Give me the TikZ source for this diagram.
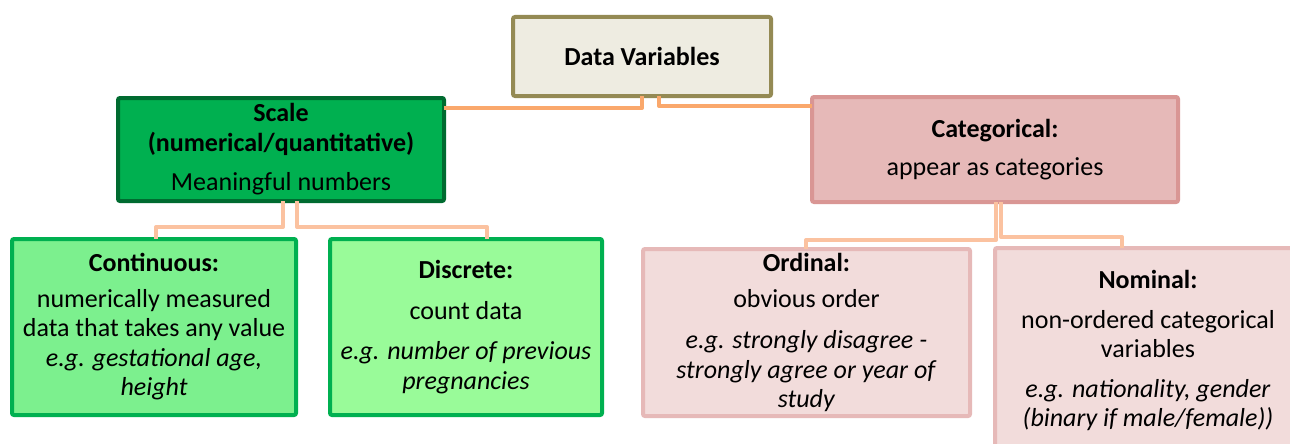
\documentclass[tikz,border=0pt]{standalone}
\usepackage{fontspec}
\setmainfont{Carlito}
\definecolor{dvfill}{HTML}{EEECE1}
\definecolor{dvline}{HTML}{948A54}
\definecolor{scfill}{HTML}{00B050}
\definecolor{scline}{HTML}{006B30}
\definecolor{cafill}{HTML}{E6B9B8}
\definecolor{caline}{HTML}{D99694}
\definecolor{cofill}{HTML}{7CF08E}
\definecolor{difill}{HTML}{99FB99}
\definecolor{chline}{HTML}{00B050}
\definecolor{pkfill}{HTML}{F2DCDB}
\definecolor{pkline}{HTML}{E6B9B8}
\definecolor{conA}{HTML}{FAA86C}
\definecolor{conB}{HTML}{FBC2A0}
\tikzset{
  box/.style={draw, line width=4pt, rounded corners=2pt, inner sep=0pt, outer sep=0pt,
    align=center, font=\fontsize{26}{29.5}\selectfont},
  topconn/.style={draw=conA, line width=4pt, line join=round},
  subconn/.style={draw=conB, line width=4pt, line join=round},
}
\begin{document}
\begin{tikzpicture}[x=1pt,y=-1pt]
\clip (0,0) rectangle (1290,444);
\useasboundingbox (0,0) rectangle (1290,444);
\fill[white] (0,0) rectangle (1290,444);
\coordinate (j1) at (642,108);
\coordinate (j2) at (659,106);
\coordinate (k1) at (283,227);
\coordinate (k2) at (297,227);
\coordinate (m1) at (996,240);
\coordinate (m2) at (1001,237);
\coordinate (c1x) at (156,0);
\coordinate (c2x) at (487,0);
\coordinate (o1x) at (806,0);
\coordinate (n1x) at (1122,0);

\node[box, fill=dvfill, draw=dvline, minimum width=258, minimum height=79] (dv) at (642,56.5)
  {\textbf{Data Variables}};
\node[box, fill=scfill, draw=scline, minimum width=326, minimum height=103] (scale) at (281,149.5)
  {\textbf{Scale}\\\textbf{(numerical/quantitative)}\\[10pt]Meaningful numbers};
\node[box, fill=cafill, draw=caline, minimum width=366, minimum height=105] (cat) at (995,149.5)
  {\textbf{Categorical:}\\[8pt]appear as categories};
\node[box, fill=cofill, draw=chline, minimum width=284, minimum height=176] (cont) at (154,327)
  {\textbf{Continuous:}\\[6pt]numerically measured\\data that takes any value\\\textit{e.g. gestational age,}\\\textit{height}};
\node[box, fill=difill, draw=chline, minimum width=272, minimum height=176] (disc) at (466,327)
  {\textbf{Discrete:}\\[11pt]count data\\[11pt]\textit{e.g. number of previous}\\\textit{pregnancies}};
\node[box, fill=pkfill, draw=pkline, minimum width=327, minimum height=167] (ord) at (806.5,332.5)
  {\textbf{Ordinal:}\\[6pt]obvious order\\[12pt]\textit{e.g. strongly disagree -}\\\textit{strongly agree or year of}\\\textit{study}};
\node[box, fill=pkfill, draw=pkline, minimum width=306, minimum height=205] (nom) at (1148,350.5)
  {\textbf{Nominal:}\\[10pt]non-ordered categorical\\variables\\[10pt]\textit{e.g. nationality, gender}\\\textit{(binary if male/female))}};

\draw[topconn] (dv.south -| j1) -- (j1) -- (j1 -| scale.east);
\draw[topconn] (dv.south -| j2) -- (j2) -- (j2 -| cat.west);
\draw[subconn] (scale.south -| k1) -- (k1) -- (k1 -| c1x) -- (cont.north -| c1x);
\draw[subconn] (scale.south -| k2) -- (k2) -- (k2 -| c2x) -- (disc.north -| c2x);
\draw[subconn] (cat.south -| m1) -- (m1) -- (m1 -| o1x) -- (ord.north -| o1x);
\draw[subconn] (cat.south -| m2) -- (m2) -- (m2 -| n1x) -- (nom.north -| n1x);
\end{tikzpicture}
\end{document}
